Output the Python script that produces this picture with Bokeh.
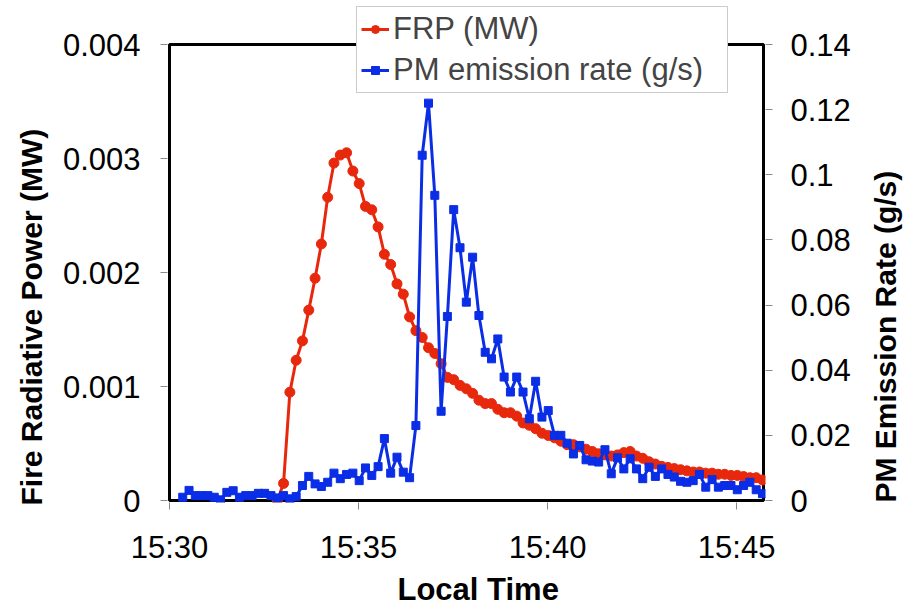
import math
from bokeh.plotting import figure
from bokeh.models import Range1d, LinearAxis, FixedTicker, Legend, LegendItem, Title, BoxAnnotation
from bokeh.embed import file_html
from bokeh.resources import INLINE

# ---- data ----
# samples every 10 s, first PM sample at 15:30:21
sample_start_s = 21
sample_step_s = 10

pm_emission_gs = [0.001, 0.0031, 0.0015, 0.0015, 0.0015, 0.001, 0.0002, 0.0025, 0.003, 0.001,
                  0.0015, 0.0015, 0.0022, 0.0022, 0.0015, 0.0008, 0.0015, 0.0005, 0.0012, 0.0046,
                  0.0074, 0.0051, 0.0043, 0.0056, 0.0084, 0.0067, 0.008, 0.0084, 0.0061, 0.01,
                  0.0077, 0.0104, 0.019, 0.0084, 0.0133, 0.0087, 0.007, 0.023, 0.106, 0.122,
                  0.0937, 0.0274, 0.0565, 0.0893, 0.0776, 0.0609, 0.0747, 0.0568, 0.0455, 0.0435,
                  0.0496, 0.0379, 0.0333, 0.0379, 0.0333, 0.0251, 0.0366, 0.0256, 0.0276, 0.02,
                  0.02, 0.0176, 0.0143, 0.0169, 0.0125, 0.0121, 0.0118, 0.0156, 0.0082, 0.0131,
                  0.0097, 0.0128, 0.0097, 0.0067, 0.0102, 0.0074, 0.0097, 0.008, 0.0072, 0.0059,
                  0.0056, 0.0061, 0.008, 0.0041, 0.0064, 0.0041, 0.0046, 0.0046, 0.0033, 0.0046,
                  0.0056, 0.0033, 0.0021]

frp_first_sample = 15
frp_mw = [0.0, 0.00015, 0.00095, 0.00123, 0.0014, 0.00167, 0.00195, 0.00225, 0.00266, 0.00296,
          0.00303, 0.00305, 0.00289, 0.00278, 0.00258, 0.00255, 0.0024, 0.00216, 0.00207, 0.0019,
          0.00181, 0.00161, 0.00149, 0.00143, 0.00134, 0.00129, 0.0012, 0.00108, 0.00106, 0.00101,
          0.00098, 0.00094, 0.00088, 0.00085, 0.00085, 0.0008, 0.00077, 0.00077, 0.00074, 0.00068,
          0.00066, 0.00063, 0.00059, 0.00057, 0.00055, 0.00052, 0.00049, 0.00049, 0.00047, 0.00045,
          0.00043, 0.00041, 0.0004, 0.00039, 0.0004, 0.00042, 0.00043, 0.00039, 0.00037, 0.00034,
          0.00032, 0.0003, 0.00029, 0.00028, 0.00027, 0.00026, 0.00025, 0.00025, 0.00024, 0.00024,
          0.00023, 0.00023, 0.00022, 0.00022, 0.00021, 0.0002, 0.0002, 0.00018]

x_tick_minutes = [0, 5, 10, 15]
x_tick_labels = ["15:30", "15:35", "15:40", "15:45"]
x_axis_end = 15.71          # minutes after 15:30 at the right edge
left_ticks = [0, 0.001, 0.002, 0.003, 0.004]
left_tick_labels = ["0", "0.001", "0.002", "0.003", "0.004"]
right_ticks = [0, 0.02, 0.04, 0.06, 0.08, 0.1, 0.12, 0.14]
right_tick_labels = ["0", "0.02", "0.04", "0.06", "0.08", "0.1", "0.12", "0.14"]
left_max = 0.004
right_max = 0.14

# minutes after 15:30 for each sample
pm_minutes = [(sample_start_s + sample_step_s * k) / 60.0 for k in range(len(pm_emission_gs))]
frp_minutes = pm_minutes[frp_first_sample:frp_first_sample + len(frp_mw)]

RED = "#E8280C"
BLUE = "#0A2DE6"
FONT = "Liberation Sans"

# ---- geometry (pixels) ----
plot_w_px = 594      # visible box width
plot_h_px = 456      # visible box height
pad_px = 2           # frame padding so the box border is not clipped
top_extra_px = 39    # frame extends above the box so the legend can overlap it

x_per_px = x_axis_end / plot_w_px
l_per_px = left_max / plot_h_px
r_per_px = right_max / plot_h_px

p = figure(frame_width=plot_w_px + 2 * pad_px, frame_height=plot_h_px + pad_px + top_extra_px,
           min_border_left=167, min_border_right=148, min_border_top=5, min_border_bottom=98,
           x_range=Range1d(-pad_px * x_per_px, x_axis_end + pad_px * x_per_px),
           y_range=Range1d(-pad_px * l_per_px, left_max + top_extra_px * l_per_px),
           output_backend="svg", toolbar_location=None)
p.extra_y_ranges = {"pm": Range1d(-pad_px * r_per_px, right_max + top_extra_px * r_per_px)}
p.xgrid.visible = False
p.ygrid.visible = False
p.outline_line_color = None
p.background_fill_color = "white"
p.border_fill_color = "white"

right_axis = LinearAxis(y_range_name="pm")
p.add_layout(right_axis, "right")

def style_axis(ax, ticks, labels, standoff):
    ax.ticker = FixedTicker(ticks=ticks)
    ax.major_label_overrides = {t: l for t, l in zip(ticks, labels)}
    ax.axis_line_color = None
    ax.major_tick_line_color = "#8a8a8a"
    ax.major_tick_line_width = 1
    ax.major_tick_out = 7
    ax.major_tick_in = 0
    ax.minor_tick_line_color = None
    ax.major_label_text_font = FONT
    ax.major_label_text_font_size = "31px"
    ax.major_label_text_color = "black"
    ax.major_label_standoff = standoff

style_axis(p.xaxis[0], x_tick_minutes, x_tick_labels, 20)
style_axis(p.yaxis[0], left_ticks, left_tick_labels, 20)
style_axis(right_axis, right_ticks, right_tick_labels, 18)

# right axis title, reading bottom to top, starting at the bottom of the axis
right_axis.axis_label = "PM Emission Rate (g/s)"
right_axis.axis_label_orientation = math.pi / 2
if "axis_label_align" in right_axis.properties():
    right_axis.axis_label_align = "start"
right_axis.axis_label_text_baseline = "middle"
right_axis.axis_label_text_font = FONT
right_axis.axis_label_text_font_style = "bold"
right_axis.axis_label_text_font_size = "30px"
right_axis.axis_label_text_color = "black"
right_axis.axis_label_standoff = 32

# plot box border
p.add_layout(BoxAnnotation(left=0, right=x_axis_end, bottom=0, top=left_max,
                           fill_alpha=0, line_color="black", line_alpha=1.0, line_width=3,
                           level="underlay"))

r_line = p.line(frp_minutes, frp_mw, line_color=RED, line_width=3)
r_pts = p.scatter(frp_minutes, frp_mw, marker="circle", size=10, fill_color=RED, line_color=RED)
b_line = p.line(pm_minutes, pm_emission_gs, y_range_name="pm", line_color=BLUE, line_width=3)
b_pts = p.scatter(pm_minutes, pm_emission_gs, y_range_name="pm", marker="square", size=8,
                  fill_color=BLUE, line_color=BLUE)

legend = Legend(items=[LegendItem(label="FRP (MW)", renderers=[r_line, r_pts]),
                       LegendItem(label="PM emission rate (g/s)", renderers=[b_line, b_pts])],
                location=(189, 409))
legend.label_text_font = FONT
legend.label_text_font_size = "31px"
legend.label_height = 36
legend.label_width = 330
legend.glyph_height = 20
legend.glyph_width = 28
legend.label_standoff = 4
legend.spacing = 5
legend.padding = 4
legend.margin = 0
legend.border_line_color = "#9a9a9a"
legend.border_line_width = 1
legend.background_fill_color = "white"
legend.background_fill_alpha = 1.0
p.add_layout(legend)

def side_title(text, align, offset, standoff, size):
    return Title(text=text, align=align, offset=offset, text_font=FONT, text_font_style="bold",
                 text_font_size=size, text_color="black", standoff=standoff)

p.add_layout(side_title("Fire Radiative Power (MW)", "left", -3, 23, "30px"), "left")
p.add_layout(side_title("Local Time", "left", 230, 4, "31px"), "below")

open("out.html", "w").write(file_html(p, INLINE))
